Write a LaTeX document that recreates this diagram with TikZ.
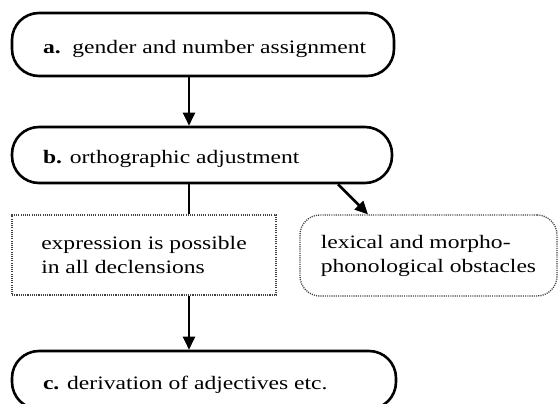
\documentclass[tikz,border=0pt]{standalone}
\usepackage{fontspec}
\setmainfont[FakeStretch=1.24]{Liberation Serif}
\usetikzlibrary{arrows.meta}
\begin{document}
\begin{tikzpicture}[x=1pt,y=-1pt,
  every node/.style={font=\fontsize{19}{24}\selectfont, inner sep=0pt},
  stage/.style={draw, line width=2.6pt, rounded corners=27pt, text height=18pt, text depth=0pt},
  note/.style={draw=black!75, line width=1.3pt, dash pattern=on 1.1pt off 1.1pt, align=left},
  arr/.style={line width=2.6pt, -{Triangle[length=13pt,width=12pt]}},
  link/.style={line width=2.6pt}
]
\useasboundingbox (0,0) rectangle (558,404);
\coordinate (spine) at (189,0);
\node[stage, minimum width=382pt, minimum height=63pt] (a) at (203,44.5) {\makebox[320pt][l]{\textbf{a.}\ \ gender and number assignment}};
\node[stage, minimum width=380pt, minimum height=56pt] (b) at (202,155) {\makebox[318pt][l]{\textbf{b.} orthographic adjustment}};
\node[note, minimum width=264pt, minimum height=80pt] (e) at (144,255) {expression is possible\\in all declensions};
\node[note, rounded corners=20pt, minimum width=257pt, minimum height=81pt] (f) at (428.5,255.5) {lexical and morpho-\\phonological obstacles};
\node[stage, minimum width=384pt, minimum height=58pt] (c) at (204,380) {\makebox[322pt][l]{\textbf{c.} derivation of adjectives etc.}};
\draw[arr] (a.south -| spine) -- (b.north -| spine);
\draw[link] (b.south -| spine) -- (e.north -| spine);
\draw[arr] (e.south -| spine) -- (c.north -| spine);
\draw[arr] ([xshift=136pt]b.south) -- ([xshift=-60.5pt]f.north);
\end{tikzpicture}
\end{document}
